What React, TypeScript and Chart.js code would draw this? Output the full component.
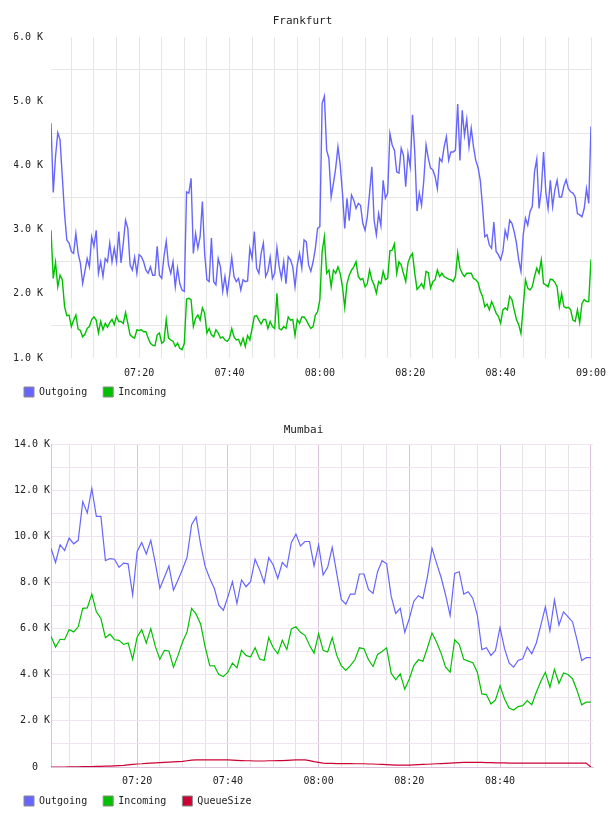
import React, { useEffect, useRef } from 'react';
import { Chart, registerables } from 'chart.js';

Chart.register(...registerables);

const FONT = '"DejaVu Sans Mono", monospace';
const TEXT_COLOR = '#222';

// Frankfurt traffic, thousands of messages, one sample every 30 s from 07:00:30
const FRANKFURT_FIRST_MINUTE = 0.5;
const FRANKFURT_STEP_MINUTES = 0.5;
const FRANKFURT_OUTGOING = [
  4.66, 3.58, 4.14, 4.51, 4.4, 3.83, 3.25, 2.84, 2.79, 2.66, 2.63, 2.94, 2.63, 2.48, 2.16, 2.35, 2.55, 2.42, 2.89, 2.74,
  2.99, 2.32, 2.5, 2.27, 2.55, 2.5, 2.79, 2.5, 2.71, 2.5, 2.97, 2.48, 2.79, 3.15, 3.02, 2.45, 2.37, 2.57, 2.32, 2.61,
  2.58, 2.5, 2.37, 2.32, 2.42, 2.29, 2.29, 2.74, 2.29, 2.24, 2.58, 2.82, 2.45, 2.32, 2.5, 2.11, 2.4, 2.16, 2.06, 2.04,
  3.59, 3.57, 3.8, 2.63, 2.94, 2.71, 2.89, 3.44, 2.63, 2.22, 2.19, 2.87, 2.19, 2.14, 2.55, 2.42, 2.04, 2.27, 2.01, 2.27,
  2.57, 2.27, 2.19, 2.24, 2.06, 2.22, 2.19, 2.2, 2.71, 2.55, 2.97, 2.4, 2.32, 2.63, 2.79, 2.27, 2.35, 2.57, 2.24, 2.32,
  2.72, 2.42, 2.24, 2.5, 2.16, 2.58, 2.53, 2.42, 2.11, 2.45, 2.63, 2.4, 2.84, 2.81, 2.45, 2.35, 2.5, 2.71, 3.02, 3.05,
  4.97, 5.08, 4.24, 4.11, 3.51, 3.72, 3.96, 4.29, 4.01, 3.57, 3.02, 3.49, 3.14, 3.54, 3.46, 3.33, 3.41, 3.38, 3.1, 2.99,
  3.2, 3.57, 3.98, 3.15, 2.92, 3.25, 3.06, 3.77, 3.49, 3.57, 4.5, 4.32, 4.24, 3.9, 3.88, 4.27, 4.16, 3.67, 4.19, 3.98,
  4.79, 4.21, 3.29, 3.57, 3.38, 3.77, 4.32, 4.11, 3.96, 3.93, 3.83, 3.64, 4.11, 4.06, 4.29, 4.45, 4.08, 4.21, 4.21, 4.24,
  4.96, 4.08, 4.86, 4.47, 4.72, 4.29, 4.58, 4.29, 4.08, 3.97, 3.77, 3.36, 2.89, 2.92, 2.76, 2.71, 3.12, 2.66, 2.61, 2.53,
  2.66, 2.99, 2.87, 3.15, 3.1, 2.97, 2.79, 2.53, 2.35, 2.92, 3.18, 3.07, 3.28, 3.36, 3.9, 4.1, 3.33, 3.62, 4.21, 3.59,
  3.33, 3.77, 3.36, 3.62, 3.77, 3.51, 3.51, 3.68, 3.78, 3.64, 3.59, 3.57, 3.51, 3.25, 3.23, 3.2, 3.33, 3.64, 3.41, 4.61,
];
const FRANKFURT_INCOMING = [
  2.99, 2.24, 2.49, 2.11, 2.29, 2.22, 1.8, 1.66, 1.67, 1.49, 1.59, 1.67, 1.45, 1.43, 1.33, 1.37, 1.46, 1.49, 1.6, 1.64,
  1.59, 1.39, 1.57, 1.44, 1.54, 1.48, 1.55, 1.6, 1.52, 1.65, 1.57, 1.57, 1.54, 1.71, 1.54, 1.36, 1.33, 1.31, 1.44, 1.43,
  1.44, 1.41, 1.41, 1.31, 1.23, 1.2, 1.19, 1.36, 1.39, 1.23, 1.26, 1.6, 1.31, 1.28, 1.26, 1.18, 1.23, 1.15, 1.13, 1.23,
  1.92, 1.93, 1.91, 1.49, 1.62, 1.67, 1.59, 1.78, 1.7, 1.39, 1.46, 1.36, 1.33, 1.44, 1.39, 1.31, 1.33, 1.28, 1.26, 1.31,
  1.46, 1.33, 1.28, 1.29, 1.2, 1.31, 1.18, 1.35, 1.28, 1.46, 1.65, 1.66, 1.59, 1.53, 1.6, 1.6, 1.46, 1.57, 1.49, 1.46,
  2.01, 1.46, 1.44, 1.49, 1.46, 1.64, 1.59, 1.6, 1.35, 1.6, 1.54, 1.64, 1.64, 1.59, 1.52, 1.46, 1.49, 1.67, 1.72, 1.91,
  2.66, 2.89, 2.32, 2.37, 2.11, 2.37, 2.32, 2.42, 2.32, 2.11, 1.79, 2.16, 2.29, 2.37, 2.42, 2.5, 2.27, 2.22, 2.24, 2.11,
  2.16, 2.37, 2.22, 2.14, 2.01, 2.19, 2.16, 2.35, 2.22, 2.24, 2.67, 2.68, 2.78, 2.32, 2.5, 2.45, 2.32, 2.19, 2.48, 2.58,
  2.63, 2.32, 2.07, 2.11, 2.16, 2.09, 2.35, 2.33, 2.09, 2.19, 2.22, 2.37, 2.27, 2.32, 2.27, 2.25, 2.23, 2.22, 2.19, 2.27,
  2.64, 2.4, 2.32, 2.27, 2.32, 2.32, 2.32, 2.24, 2.22, 2.18, 2.04, 1.96, 1.8, 1.84, 1.75, 1.88, 1.8, 1.7, 1.65, 1.54,
  1.75, 1.78, 1.75, 1.96, 1.91, 1.75, 1.6, 1.52, 1.38, 1.8, 2.22, 2.09, 2.06, 2.11, 2.27, 2.4, 2.32, 2.53, 2.16, 2.14,
  2.11, 2.23, 2.22, 2.18, 2.11, 1.8, 2.0, 1.8, 1.78, 1.79, 1.75, 1.59, 1.57, 1.75, 1.55, 1.85, 1.91, 1.88, 1.88, 2.54,
];

// Mumbai traffic, thousands, one sample per minute from 07:01
const MUMBAI_FIRST_MINUTE = 1;
const MUMBAI_STEP_MINUTES = 1;
const MUMBAI_OUTGOING = [
  9.49, 8.87, 9.64, 9.39, 9.93, 9.68, 9.83, 11.51, 11.02, 12.08,
  10.87, 10.87, 8.95, 9.04, 9.01, 8.66, 8.84, 8.81, 7.46, 9.35,
  9.74, 9.24, 9.83, 8.84, 7.75, 8.23, 8.72, 7.67, 8.11, 8.58,
  9.1, 10.51, 10.84, 9.64, 8.69, 8.18, 7.75, 7.02, 6.8, 7.38,
  8.04, 7.09, 8.11, 7.82, 8.04, 9.01, 8.55, 7.99, 9.08, 8.76,
  8.18, 8.87, 8.66, 9.74, 10.1, 9.59, 9.78, 9.78, 8.72, 9.64,
  8.33, 8.66, 9.53, 8.4, 7.27, 7.06, 7.5, 7.5, 8.37, 8.37,
  7.7, 7.53, 8.47, 8.95, 8.81, 7.41, 6.66, 6.88, 5.84, 6.44,
  7.19, 7.43, 7.31, 8.26, 9.49, 8.84, 8.23, 7.46, 6.57, 8.4,
  8.47, 7.5, 7.6, 7.31, 6.58, 5.09, 5.17, 4.84, 5.06, 6.05,
  5.13, 4.51, 4.33, 4.62, 4.69, 5.2, 4.91, 5.38, 6.15, 6.95,
  5.9, 7.24, 6.15, 6.73, 6.51, 6.29, 5.49, 4.62, 4.74, 4.74,
];
const MUMBAI_INCOMING = [
  5.67, 5.2, 5.54, 5.52, 5.96, 5.86, 6.08, 6.88, 6.9, 7.5,
  6.73, 6.44, 5.61, 5.76, 5.52, 5.49, 5.32, 5.38, 4.67, 5.64,
  5.96, 5.38, 6.0, 5.23, 4.67, 5.06, 5.03, 4.33, 4.84, 5.42,
  5.86, 6.88, 6.63, 6.19, 5.2, 4.4, 4.39, 4.01, 3.92, 4.11,
  4.51, 4.3, 5.06, 4.84, 4.77, 5.17, 4.68, 4.62, 5.61, 5.17,
  4.91, 5.49, 5.1, 5.99, 6.08, 5.84, 5.71, 5.28, 4.94, 5.78,
  5.06, 4.99, 5.61, 4.84, 4.4, 4.19, 4.4, 4.65, 5.17, 5.13,
  4.65, 4.36, 4.88, 5.01, 5.17, 4.07, 3.78, 4.04, 3.37, 3.82,
  4.4, 4.65, 4.59, 5.17, 5.81, 5.42, 4.94, 4.33, 4.11, 5.52,
  5.32, 4.67, 4.59, 4.52, 4.11, 3.17, 3.14, 2.73, 2.91, 3.53,
  2.95, 2.56, 2.47, 2.62, 2.66, 2.88, 2.7, 3.24, 3.72, 4.11,
  3.46, 4.23, 3.63, 4.08, 4.01, 3.82, 3.31, 2.7, 2.81, 2.81,
];
const MUMBAI_QUEUE = [
  0.0, 0.0, 0.0, 0.0, 0.01, 0.01, 0.01, 0.02, 0.02, 0.02,
  0.03, 0.03, 0.04, 0.04, 0.05, 0.06, 0.07, 0.09, 0.11, 0.13,
  0.14, 0.16, 0.17, 0.18, 0.19, 0.2, 0.21, 0.22, 0.23, 0.24,
  0.27, 0.3, 0.31, 0.31, 0.31, 0.31, 0.31, 0.31, 0.31, 0.31,
  0.3, 0.29, 0.28, 0.27, 0.27, 0.26, 0.26, 0.26, 0.27, 0.27,
  0.28, 0.28, 0.29, 0.3, 0.31, 0.31, 0.31, 0.28, 0.23, 0.2,
  0.17, 0.16, 0.16, 0.15, 0.15, 0.15, 0.15, 0.14, 0.14, 0.14,
  0.13, 0.13, 0.12, 0.11, 0.1, 0.09, 0.08, 0.08, 0.08, 0.08,
  0.09, 0.1, 0.11, 0.12, 0.13, 0.14, 0.15, 0.16, 0.17, 0.18,
  0.19, 0.2, 0.2, 0.2, 0.2, 0.2, 0.19, 0.19, 0.18, 0.18,
  0.18, 0.17, 0.17, 0.17, 0.17, 0.17, 0.17, 0.17, 0.17, 0.17,
  0.17, 0.17, 0.17, 0.17, 0.17, 0.17, 0.17, 0.17, 0.17, 0.0,
];

const SERIES_NAMES = ['Outgoing', 'Incoming', 'QueueSize'];
const SERIES_COLORS = ['#6666ff', '#00c000', '#cc0033'];

// minutes after 07:00 -> "HH:MM"
function clockLabel(minutes: number): string {
  const total = Math.round(7 * 60 + minutes);
  const h = Math.floor(total / 60);
  const m = total % 60;
  return `${String(h).padStart(2, '0')}:${String(m).padStart(2, '0')}`;
}

function toPoints(values: number[], first: number, step: number) {
  return values.map((v, i) => ({ x: first + i * step, y: v }));
}

function lineDataset(name: string, color: string, data: { x: number; y: number }[], width: number) {
  return {
    label: name,
    data,
    borderColor: color,
    backgroundColor: color,
    borderWidth: width,
    pointRadius: 0,
    pointHoverRadius: 0,
    tension: 0,
    fill: false,
  };
}

const font = (size: number) => ({ family: FONT, size, weight: 'normal' as const, lineHeight: 1.2 });

// legend row: 10px swatches with a grey outline, 16px between entries
function legendOptions() {
  return {
    position: 'bottom' as const,
    align: 'start' as const,
    labels: {
      boxWidth: 10,
      boxHeight: 10,
      padding: 10,
      color: TEXT_COLOR,
      font: font(10),
      generateLabels: (chart: Chart) =>
        Chart.defaults.plugins.legend.labels.generateLabels(chart).map((item: any) => ({
          ...item,
          text: item.text + ' ',
          strokeStyle: '#8a8a8a',
          lineWidth: 1,
        })),
    },
  };
}

function frankfurtConfig(): any {
  const grid = '#e6e6e6';
  return {
    type: 'line',
    data: {
      datasets: [
        lineDataset(SERIES_NAMES[0], SERIES_COLORS[0], toPoints(FRANKFURT_OUTGOING, FRANKFURT_FIRST_MINUTE, FRANKFURT_STEP_MINUTES), 1.4),
        lineDataset(SERIES_NAMES[1], SERIES_COLORS[1], toPoints(FRANKFURT_INCOMING, FRANKFURT_FIRST_MINUTE, FRANKFURT_STEP_MINUTES), 1.4),
      ],
    },
    options: {
      animation: false,
      responsive: false,
      events: [],
      layout: { padding: { left: 14, right: 17, top: 0, bottom: 1 } },
      plugins: {
        title: {
          display: true,
          text: 'Frankfurt',
          color: TEXT_COLOR,
          font: font(11),
          padding: { top: 15, bottom: 9 },
        },
        legend: legendOptions(),
        tooltip: { enabled: false },
      },
      scales: {
        x: {
          type: 'linear',
          min: 0.5,
          max: 120,
          border: { display: false },
          grid: { color: grid, drawTicks: false, lineWidth: 1 },
          ticks: {
            stepSize: 5,
            autoSkip: false,
            maxRotation: 0,
            includeBounds: false,
            padding: 9,
            color: TEXT_COLOR,
            font: font(10),
            callback: (v: number) => (v % 20 === 0 ? clockLabel(v) : ''),
          },
          afterFit: (s: any) => {
            s.paddingLeft = 0;
            s.paddingRight = 0;
            s.height = 19;
          },
        },
        y: {
          type: 'linear',
          min: 1,
          max: 6,
          border: { display: false },
          grid: {
            drawTicks: false,
            color: (ctx: any) => (Number.isInteger(ctx.tick.value) ? 'rgba(0,0,0,0)' : grid),
          },
          ticks: {
            stepSize: 0.5,
            padding: 8,
            color: TEXT_COLOR,
            font: font(10),
            callback: (v: number) => (Number.isInteger(v) ? `${v.toFixed(1)} K` : ''),
          },
          afterFit: (s: any) => {
            s.width = 37;
          },
        },
      },
    },
  };
}

function mumbaiConfig(): any {
  const hGrid = '#f1e4f1';
  const minorV = '#e9e1e9';
  const majorV = '#dcc3dc';
  return {
    type: 'line',
    data: {
      datasets: [
        lineDataset(SERIES_NAMES[0], SERIES_COLORS[0], toPoints(MUMBAI_OUTGOING, MUMBAI_FIRST_MINUTE, MUMBAI_STEP_MINUTES), 1.2),
        lineDataset(SERIES_NAMES[1], SERIES_COLORS[1], toPoints(MUMBAI_INCOMING, MUMBAI_FIRST_MINUTE, MUMBAI_STEP_MINUTES), 1.2),
        lineDataset(SERIES_NAMES[2], SERIES_COLORS[2], toPoints(MUMBAI_QUEUE, MUMBAI_FIRST_MINUTE, MUMBAI_STEP_MINUTES), 1.2),
      ],
    },
    options: {
      animation: false,
      responsive: false,
      events: [],
      layout: { padding: { left: 14, right: 15, top: 0, bottom: 0 } },
      plugins: {
        title: {
          display: true,
          text: 'Mumbai',
          color: TEXT_COLOR,
          font: font(11),
          padding: { top: 16, bottom: 7 },
        },
        legend: legendOptions(),
        tooltip: { enabled: false },
      },
      scales: {
        x: {
          type: 'linear',
          min: 1,
          max: 120.5,
          border: { display: true, color: majorV, width: 1 },
          grid: {
            drawTicks: false,
            color: (ctx: any) => (ctx.tick && ctx.tick.value % 20 === 0 ? majorV : minorV),
          },
          ticks: {
            stepSize: 5,
            autoSkip: false,
            maxRotation: 0,
            includeBounds: false,
            padding: 8,
            color: TEXT_COLOR,
            font: font(10),
            callback: (v: number) => (v % 20 === 0 && v < 120 ? clockLabel(v) : ''),
          },
          afterFit: (s: any) => {
            s.paddingLeft = 0;
            s.paddingRight = 0;
            s.height = 19;
          },
        },
        y: {
          type: 'linear',
          min: 0,
          max: 14,
          border: { display: true, color: majorV, width: 1 },
          grid: { drawTicks: false, color: hGrid },
          ticks: {
            stepSize: 1,
            padding: 1,
            color: TEXT_COLOR,
            font: font(10),
            callback: (v: number) => (v === 0 ? '0  ' : v % 2 === 0 ? `${v.toFixed(1)} K` : ''),
          },
          afterFit: (s: any) => {
            s.width = 37;
          },
        },
      },
    },
  };
}

function ChartCanvas({ build, height }: { build: () => any; height: number }) {
  const ref = useRef<HTMLCanvasElement | null>(null);
  useEffect(() => {
    if (!ref.current) return;
    const chart = new Chart(ref.current, build());
    return () => chart.destroy();
  }, [build]);
  return <canvas ref={ref} width={608} height={height} style={{ display: 'block', width: 608, height }} />;
}

export default function App() {
  return (
    <div
      style={{
        position: 'absolute',
        left: 0,
        top: 0,
        width: 608,
        height: 816,
        overflow: 'hidden',
        background: '#fff',
      }}
    >
      <ChartCanvas build={frankfurtConfig} height={408} />
      <ChartCanvas build={mumbaiConfig} height={408} />
    </div>
  );
}
